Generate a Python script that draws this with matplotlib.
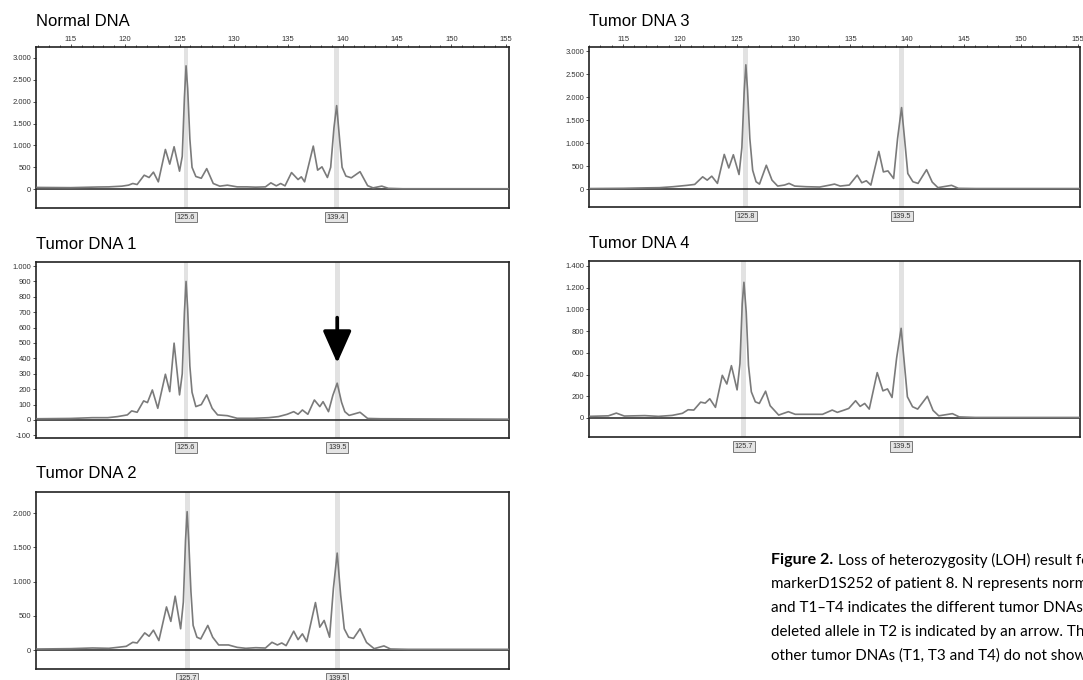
import numpy as np
import matplotlib
matplotlib.use("Agg")
import matplotlib.pyplot as plt
import matplotlib.transforms as mtransforms

# ---- data (size in bp, RFU) ----
normal_x = [111.9, 115.0, 117.5, 118.5, 119.7, 120.3, 120.7, 121.1, 121.75, 122.2, 122.6, 123.05,
            123.7, 124.1, 124.5, 125.0, 125.25, 125.45, 125.6, 125.75, 125.95, 126.15, 126.5, 127.0,
            127.5, 128.1, 128.7, 129.4, 130.3, 131.2, 132.0, 132.9, 133.4, 133.9, 134.3, 134.7,
            135.3, 135.9, 136.2, 136.5, 137.3, 137.7, 138.1, 138.6, 138.9, 139.2, 139.45, 139.7,
            139.95, 140.3, 140.8, 141.6, 142.3, 142.8, 143.6, 144.2, 145.5, 155.5]
normal_y = [40, 35, 50, 53, 69, 92, 130, 107, 320, 267, 390, 168,
            908, 573, 970, 412, 750, 2100, 2820, 2300, 1150, 500, 290, 250,
            470, 130, 69, 92, 53, 53, 46, 53, 145, 76, 130, 76,
            380, 221, 282, 168, 985, 435, 511, 267, 500, 1400, 1910, 1200,
            500, 300, 260, 400, 80, 30, 70, 20, 10, 10]

t1_x = [111.9, 115.0, 117.0, 118.4, 119.3, 120.2, 120.6, 121.1, 121.7, 122.05, 122.5, 123.0,
        123.7, 124.1, 124.5, 125.0, 125.25, 125.45, 125.6, 125.75, 125.95, 126.15, 126.5, 127.0,
        127.5, 128.0, 128.5, 129.4, 130.3, 131.8, 133.2, 134.1, 134.9, 135.5, 135.9, 136.3,
        136.8, 137.4, 137.9, 138.2, 138.7, 139.1, 139.5, 139.9, 140.2, 140.6, 141.6, 142.3,
        143.5, 155.5]
t1_y = [8, 10, 15, 15, 22, 33, 59, 50, 124, 113, 195, 76,
        297, 184, 499, 163, 300, 700, 900, 720, 350, 180, 87, 100,
        163, 76, 33, 28, 11, 11, 15, 22, 37, 54, 37, 65,
        37, 130, 87, 119, 54, 160, 239, 115, 54, 30, 50, 10,
        8, 5]

t2_x = [111.9, 115.0, 117.0, 118.5, 119.3, 120.1, 120.7, 121.1, 121.8, 122.2, 122.6, 123.1,
        123.8, 124.2, 124.6, 125.1, 125.35, 125.55, 125.7, 125.85, 126.05, 126.25, 126.6, 126.95,
        127.6, 128.05, 128.6, 129.5, 130.3, 131.1, 132.0, 132.9, 133.5, 134.0, 134.4, 134.8,
        135.5, 135.9, 136.3, 136.7, 137.5, 137.9, 138.3, 138.8, 139.15, 139.5, 139.82, 140.15,
        140.55, 141.0, 141.6, 142.2, 142.9, 143.8, 144.4, 146.0, 155.5]
t2_y = [15, 20, 30, 25, 39, 54, 113, 103, 250, 201, 290, 138,
        629, 418, 786, 310, 700, 1600, 2020, 1580, 850, 360, 187, 162,
        359, 187, 74, 74, 39, 25, 34, 29, 113, 74, 103, 64,
        275, 152, 236, 123, 693, 334, 432, 187, 900, 1415, 800, 310,
        187, 170, 310, 110, 20, 60, 15, 10, 10]

t3_x = [112.1, 115.0, 117.0, 118.2, 119.4, 120.6, 121.3, 122.0, 122.4, 122.8, 123.3, 123.9,
        124.3, 124.7, 125.2, 125.45, 125.65, 125.8, 125.95, 126.15, 126.4, 126.7, 127.0, 127.6,
        128.1, 128.6, 129.2, 129.6, 130.1, 131.1, 132.3, 133.2, 133.6, 134.1, 134.9, 135.6,
        136.0, 136.4, 136.8, 137.5, 137.9, 138.3, 138.8, 139.15, 139.5, 139.78, 140.05, 140.5,
        140.95, 141.7, 142.2, 142.7, 143.9, 144.5, 146.0, 155.3]
t3_y = [10, 15, 25, 29, 50, 79, 100, 265, 193, 279, 122, 752,
        458, 745, 315, 900, 2100, 2700, 2150, 1100, 408, 158, 107, 516,
        193, 64, 86, 122, 64, 50, 43, 86, 107, 64, 86, 301,
        136, 179, 86, 817, 372, 394, 229, 1100, 1770, 1053, 337, 158,
        122, 420, 150, 30, 80, 15, 10, 10]

t4_x = [112.1, 113.8, 114.5, 115.2, 117.0, 118.2, 119.4, 120.3, 120.8, 121.3, 121.9, 122.3,
        122.7, 123.2, 123.8, 124.2, 124.6, 125.1, 125.35, 125.55, 125.7, 125.9, 126.1, 126.35,
        126.7, 127.05, 127.6, 128.0, 128.75, 129.6, 130.2, 131.4, 132.6, 133.45, 133.9, 134.5,
        134.9, 135.5, 135.9, 136.3, 136.7, 137.4, 137.9, 138.3, 138.7, 139.1, 139.5, 139.77,
        140.05, 140.5, 140.95, 141.8, 142.3, 142.8, 144.0, 144.6, 146.0, 155.3]
t4_y = [15, 20, 45, 18, 22, 15, 24, 43, 76, 73, 146, 137,
        177, 98, 393, 313, 482, 259, 500, 1050, 1250, 976, 485, 241,
        149, 134, 247, 113, 27, 58, 34, 34, 34, 73, 52, 73,
        88, 159, 107, 134, 82, 418, 250, 268, 189, 550, 826, 515,
        195, 104, 82, 200, 70, 20, 40, 10, 5, 5]

titles = ["Normal DNA", "Tumor DNA 1", "Tumor DNA 2", "Tumor DNA 3", "Tumor DNA 4"]
allele_calls = [[125.6, 139.4], [125.6, 139.5], [125.7, 139.5], [125.8, 139.5], [125.7, 139.5]]
size_ticks = [115, 120, 125, 130, 135, 140, 145, 150, 155]

W, H = 1083, 680
fig = plt.figure(figsize=(W / 100, H / 100), dpi=100)
plt.rcParams['font.family'] = ['Liberation Sans', 'DejaVu Sans']


def px_axes(x0, y0, x1, y1):
    return fig.add_axes([x0 / W, 1 - y1 / H, (x1 - x0) / W, (y1 - y0) / H])


def fmt(v):
    return f"{int(v):,}".replace(",", ".")


def panel(box, xs, ys, xlim, ylim, yticks, calls, title, title_y, top_ticks=False):
    ax = px_axes(*box)
    ax.set_xlim(*xlim)
    ax.set_ylim(*ylim)
    for c in calls:
        ax.axvspan(c - 0.22, c + 0.22, color='#e2e2e2', lw=0, zorder=0)
    ax.axhline(0, color='#222222', lw=1.1, zorder=2)
    ax.plot(xs, ys, color='#7a7a7a', lw=1.2, zorder=3)
    ax.set_yticks(yticks)
    ax.set_yticklabels([fmt(v) for v in yticks])
    ax.tick_params(axis='y', labelsize=5.5, length=2, width=0.6, pad=1.5, colors='#333333')
    if top_ticks:
        ax.xaxis.tick_top()
        ax.set_xticks(size_ticks)
        ax.set_xticks(np.arange(112, 156, 1), minor=True)
        ax.tick_params(axis='x', which='major', labelsize=5.5, length=2, width=0.6, pad=1,
                       colors='#333333')
        ax.tick_params(axis='x', which='minor', length=1.2, width=0.5, top=True, bottom=False)
    else:
        ax.set_xticks([])
    for s in ax.spines.values():
        s.set_linewidth(1.2)
        s.set_color('#222222')
    trans = mtransforms.blended_transform_factory(ax.transData, ax.transAxes)
    for c in calls:
        ax.text(c, -0.035, f"{c:.1f}", transform=trans, ha='center', va='top', fontsize=5.3,
                color='#333333',
                bbox=dict(boxstyle='square,pad=0.25', fc='#e4e4e4', ec='#666666', lw=0.6))
    fig.text(box[0] / W, 1 - title_y / H, title, fontsize=12, ha='left', va='center')
    return ax


left_lim = (111.8, 155.3)
right_lim = (112.1, 155.2)

panel((36, 47, 509, 208), normal_x, normal_y, left_lim, (-430, 3250),
      [0, 500, 1000, 1500, 2000, 2500, 3000], allele_calls[0], titles[0], 21, top_ticks=True)
ax1 = panel((36, 262, 509, 438), t1_x, t1_y, left_lim, (-117, 1026),
            list(range(-100, 1001, 100)), allele_calls[1], titles[1], 244)
panel((36, 492, 509, 669), t2_x, t2_y, left_lim, (-277, 2307),
      [0, 500, 1000, 1500, 2000], allele_calls[2], titles[2], 474)
panel((589, 47, 1080, 207), t3_x, t3_y, right_lim, (-391, 3087),
      [0, 500, 1000, 1500, 2000, 2500, 3000], allele_calls[3], titles[3], 21, top_ticks=True)
panel((589, 261, 1080, 437), t4_x, t4_y, right_lim, (-175, 1446),
      [0, 200, 400, 600, 800, 1000, 1200, 1400], allele_calls[4], titles[4], 243)

# arrow marking the reduced allele
ax1.annotate('', xy=(139.5, 370), xytext=(139.5, 665),
             arrowprops=dict(arrowstyle='-|>,head_length=0.9,head_width=0.4', lw=2.6,
                             color='black', mutation_scale=22, shrinkA=0, shrinkB=0))

# caption
cap_font = ['Lato', 'DejaVu Sans']
cap_size = 10.9
bold = fig.text(771 / W, 1 - 560 / H, "Figure 2.", fontsize=cap_size + 0.6, fontweight='bold',
                family=cap_font, va='center', ha='left')
fig.canvas.draw()
bb = bold.get_window_extent()
fig.text((bb.x1 + 5) / W, 1 - 560 / H, "Loss of heterozygosity (LOH) result for",
         fontsize=cap_size, family=cap_font, va='center', ha='left')
caption_lines = ["markerD1S252 of patient 8. N represents normal DNA",
                 "and T1\u2013T4 indicates the different tumor DNAs. The",
                 "deleted allele in T2 is indicated by an arrow. The",
                 "other tumor DNAs (T1, T3 and T4) do not show LOH."]
for i, line in enumerate(caption_lines):
    fig.text(771 / W, 1 - (584 + 24 * i) / H, line, fontsize=cap_size, family=cap_font,
             va='center', ha='left')

fig.savefig('out.png', dpi=100)
